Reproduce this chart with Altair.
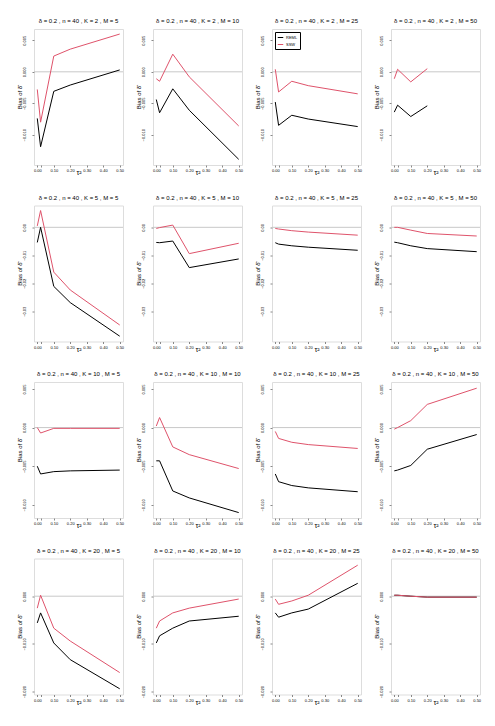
import altair as alt
import pandas as pd

FONT = "Liberation Sans"
RED = "#DF536B"
TAU2 = [0.00, 0.02, 0.10, 0.20, 0.50]
TAU2_SHORT = [0.00, 0.02, 0.10, 0.20]
X_TICKS = [0.00, 0.02, 0.10, 0.20, 0.30, 0.40, 0.50]
ZERO = [0.0]

# K = 2
REML_K2_M5 = [-0.0074, -0.0119, -0.0031, -0.0021, 0.0003]
SSW_K2_M5 = [-0.0028, -0.0080, 0.0025, 0.0036, 0.0060]
REML_K2_M10 = [-0.0044, -0.0065, -0.0027, -0.0061, -0.0139]
SSW_K2_M10 = [-0.0011, -0.0015, 0.0028, -0.0008, -0.0086]
REML_K2_M25 = [-0.0048, -0.0085, -0.0069, -0.0075, -0.0087]
SSW_K2_M25 = [0.0004, -0.0032, -0.0015, -0.0022, -0.0035]
REML_K2_M50 = [-0.0064, -0.0053, -0.0071, -0.0054]
SSW_K2_M50 = [-0.0011, 0.0004, -0.0016, 0.0005]
# K = 5
REML_K5_M5 = [-0.0054, 0.0000, -0.0211, -0.0269, -0.0389]
SSW_K5_M5 = [0.0005, 0.0060, -0.0160, -0.0224, -0.0349]
REML_K5_M10 = [-0.0054, -0.0055, -0.0049, -0.0144, -0.0113]
SSW_K5_M10 = [-0.0004, -0.0001, 0.0008, -0.0094, -0.0057]
REML_K5_M25 = [-0.0055, -0.0060, -0.0066, -0.0071, -0.0082]
SSW_K5_M25 = [-0.0004, -0.0006, -0.0012, -0.0017, -0.0028]
REML_K5_M50 = [-0.0053, -0.0055, -0.0066, -0.0076, -0.0087]
SSW_K5_M50 = [0.0000, 0.0000, -0.0010, -0.0022, -0.0031]
# K = 10
REML_K10_M5 = [-0.0050, -0.0060, -0.0057, -0.0056, -0.0055]
SSW_K10_M5 = [0.0000, -0.0007, -0.0001, -0.0001, -0.0001]
REML_K10_M10 = [-0.0043, -0.0043, -0.0082, -0.0091, -0.0110]
SSW_K10_M10 = [0.0002, 0.0013, -0.0025, -0.0035, -0.0053]
REML_K10_M25 = [-0.0060, -0.0070, -0.0075, -0.0078, -0.0083]
SSW_K10_M25 = [-0.0005, -0.0014, -0.0019, -0.0022, -0.0027]
REML_K10_M50 = [-0.0056, -0.0055, -0.0049, -0.0028, -0.0009]
SSW_K10_M50 = [-0.0002, 0.0000, 0.0009, 0.0030, 0.0051]
# K = 20
REML_K20_M5 = [-0.0056, -0.0035, -0.0098, -0.0133, -0.0194]
SSW_K20_M5 = [-0.0025, 0.0002, -0.0067, -0.0094, -0.0160]
REML_K20_M10 = [-0.0098, -0.0083, -0.0067, -0.0052, -0.0042]
SSW_K20_M10 = [-0.0067, -0.0052, -0.0035, -0.0025, -0.0006]
REML_K20_M25 = [-0.0035, -0.0044, -0.0035, -0.0027, 0.0027]
SSW_K20_M25 = [-0.0006, -0.0017, -0.0010, 0.0002, 0.0065]
REML_K20_M50 = [0.0002, 0.0002, 0.0000, -0.0002, -0.0002]
SSW_K20_M50 = [0.0002, 0.0002, 0.0000, -0.0002, -0.0002]

ROW_DOMAINS = {
    2: [-0.0148, 0.0068],
    5: [-0.0408, 0.0078],
    10: [-0.0117, 0.0059],
    20: [-0.0206, 0.0079],
}
ROW_TICKS = {
    2: [-0.010, -0.005, 0.000, 0.005],
    5: [-0.03, -0.02, -0.01, 0.00],
    10: [-0.010, -0.005, 0.000, 0.005],
    20: [-0.020, -0.015, -0.010, -0.005, 0.000, 0.005],
}
ROW_FMT = {2: ".3f", 5: ".2f", 10: ".3f", 20: ".3f"}

SERIES = {
    (2, 5): (TAU2, REML_K2_M5, SSW_K2_M5),
    (2, 10): (TAU2, REML_K2_M10, SSW_K2_M10),
    (2, 25): (TAU2, REML_K2_M25, SSW_K2_M25),
    (2, 50): (TAU2_SHORT, REML_K2_M50, SSW_K2_M50),
    (5, 5): (TAU2, REML_K5_M5, SSW_K5_M5),
    (5, 10): (TAU2, REML_K5_M10, SSW_K5_M10),
    (5, 25): (TAU2, REML_K5_M25, SSW_K5_M25),
    (5, 50): (TAU2, REML_K5_M50, SSW_K5_M50),
    (10, 5): (TAU2, REML_K10_M5, SSW_K10_M5),
    (10, 10): (TAU2, REML_K10_M10, SSW_K10_M10),
    (10, 25): (TAU2, REML_K10_M25, SSW_K10_M25),
    (10, 50): (TAU2, REML_K10_M50, SSW_K10_M50),
    (20, 5): (TAU2, REML_K20_M5, SSW_K20_M5),
    (20, 10): (TAU2, REML_K20_M10, SSW_K20_M10),
    (20, 25): (TAU2, REML_K20_M25, SSW_K20_M25),
    (20, 50): (TAU2, REML_K20_M50, SSW_K20_M50),
}

KS = [2, 5, 10, 20]
MS = [5, 10, 25, 50]


def panel(K, M):
    tau, reml, ssw = SERIES[(K, M)]
    df = pd.DataFrame({
        "tau2": list(tau) + list(tau),
        "bias": list(reml) + list(ssw),
        "method": ["REML"] * len(tau) + ["SSW"] * len(tau),
    })
    xscale = alt.Scale(domain=[-0.02, 0.52], nice=False, zero=False)
    yscale = alt.Scale(domain=ROW_DOMAINS[K], nice=False, zero=False)
    xaxis = alt.Axis(
        values=X_TICKS,
        labelExpr="abs(datum.value - 0.02) < 0.001 ? '' : format(datum.value, '.2f')",
        title="τ²", titleFontSize=7, titleFont=FONT, titleFontWeight="normal",
        titlePadding=-4, labelFontSize=4, labelFont=FONT, labelPadding=1.5,
        tickSize=2, domain=False, grid=False, labelFlush=False, labelOverlap=False,
    )
    yaxis = alt.Axis(
        values=ROW_TICKS[K], format=ROW_FMT[K],
        title="Bias of δ̂", titleFontSize=6, titleFont=FONT, titleFontWeight="normal",
        titlePadding=0, labelFontSize=4, labelFont=FONT, labelPadding=6,
        labelAngle=270, labelAlign="center", labelBaseline="bottom",
        tickSize=2, domain=False, grid=False, labelFlush=False, labelOverlap=False,
    )
    if K == 2 and M == 25:
        legend = alt.Legend(
            orient="top-left", offset=3, title=None, labelFontSize=4, labelFont=FONT,
            symbolType="stroke", symbolSize=30, symbolStrokeWidth=1,
            strokeColor="black", fillColor="white", padding=2, rowPadding=1,
            labelOffset=2,
        )
    else:
        legend = None
    rule = alt.Chart(pd.DataFrame({"zero": ZERO})).mark_rule(
        color="#C8C8C8", strokeWidth=1
    ).encode(y=alt.Y("zero:Q"))
    lines = alt.Chart(df).mark_line(strokeWidth=1).encode(
        x=alt.X("tau2:Q", scale=xscale, axis=xaxis),
        y=alt.Y("bias:Q", scale=yscale, axis=yaxis),
        color=alt.Color(
            "method:N",
            scale=alt.Scale(domain=["REML", "SSW"], range=["#000000", RED]),
            legend=legend,
        ),
    )
    title = alt.TitleParams(
        f"δ = 0.2 , n = 40 , K = {K} , M = {M}",
        fontSize=6, font=FONT, fontWeight="normal", offset=5, anchor="middle",
    )
    return alt.layer(rule, lines).properties(width=89, height=136, title=title)


rows = []
for K in KS:
    row = alt.hconcat(*[panel(K, M) for M in MS], spacing=9).resolve_legend(
        color="independent"
    ).resolve_scale(color="independent")
    rows.append(row)

chart = alt.vconcat(*rows, spacing=17.5).resolve_legend(
    color="independent"
).resolve_scale(color="independent").properties(
    padding={"left": 7, "top": 9, "right": 0, "bottom": 0}
).configure_view(
    stroke="#333333", strokeWidth=1
).configure(background="white")

chart.save("out.html", embed_options={"renderer": "svg", "actions": False})
